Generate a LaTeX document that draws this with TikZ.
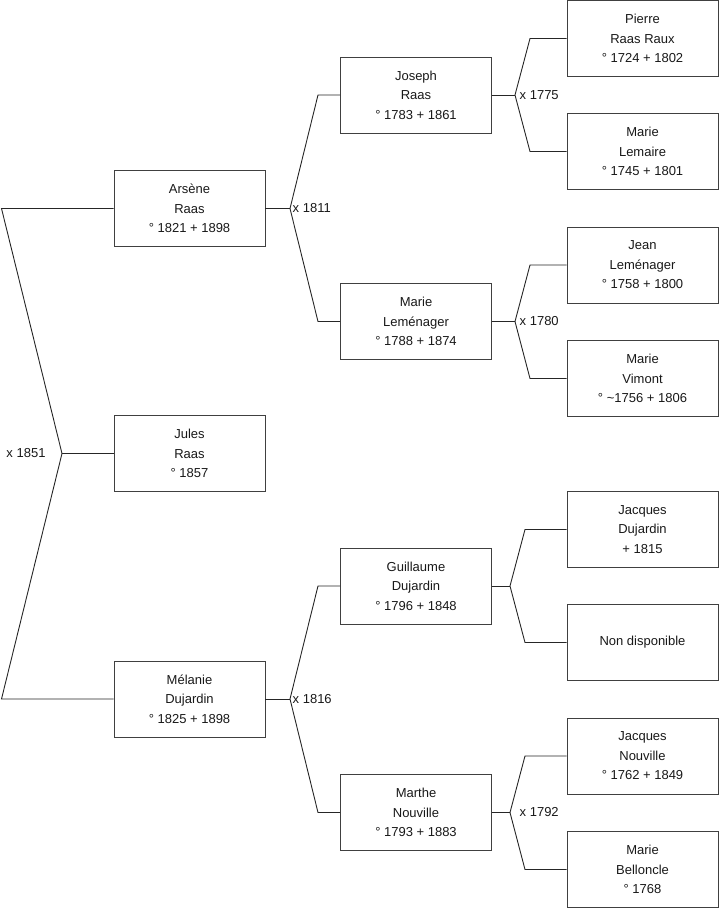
\documentclass[tikz,border=0pt]{standalone}
\usepackage{fontspec}
\setmainfont{Liberation Sans}
\begin{document}
\begin{tikzpicture}[x=1pt,y=-1pt,
  person/.style={draw=black!75, line width=0.9pt, fill=white, minimum width=151pt, minimum height=76pt,
    inner sep=0pt, align=center, font=\fontsize{13}{19.5}\selectfont, text=black!90},
  link/.style={draw=black!85, line width=0.9pt},
  mlabel/.style={font=\fontsize{13}{15}\selectfont, inner sep=0pt, text=black!90}]
\useasboundingbox (0,0) rectangle (719,908);
% column 1
\node[person] (arsene) at (189.5,208.5) {Arsène\\Raas\\° 1821 + 1898};
\node[person] (jules) at (189.5,453.5) {Jules\\Raas\\° 1857};
\node[person] (melanie) at (189.5,699) {Mélanie\\Dujardin\\° 1825 + 1898};
% column 2
\node[person] (joseph) at (416,95) {Joseph\\Raas\\° 1783 + 1861};
\node[person] (mariele) at (416,321.5) {Marie\\Leménager\\° 1788 + 1874};
\node[person] (guillaume) at (416,586) {Guillaume\\Dujardin\\° 1796 + 1848};
\node[person] (marthe) at (416,812.5) {Marthe\\Nouville\\° 1793 + 1883};
% column 3
\node[person] (pierre) at (642.5,38.5) {Pierre\\Raas Raux\\° 1724 + 1802};
\node[person] (lemaire) at (642.5,151.5) {Marie\\Lemaire\\° 1745 + 1801};
\node[person] (jean) at (642.5,265) {Jean\\Leménager\\° 1758 + 1800};
\node[person] (vimont) at (642.5,378.5) {Marie\\Vimont\\° \textasciitilde 1756 + 1806};
\node[person] (jacquesd) at (642.5,529.5) {Jacques\\Dujardin\\+ 1815};
\node[person] (nondisp) at (642.5,642.5) {Non disponible};
\node[person] (jacquesn) at (642.5,756) {Jacques\\Nouville\\° 1762 + 1849};
\node[person] (bellonce) at (642.5,869.5) {Marie\\Belloncle\\° 1768};
% fork coordinates
\coordinate (f0) at (62,453.5);
\coordinate (f0a) at (1.5,208.5);
\coordinate (f0b) at (1.5,699);
\coordinate (f1) at (290,208.5);
\coordinate (f1a) at (318,95);
\coordinate (f1b) at (318,321.5);
\coordinate (f2) at (290,699);
\coordinate (f2a) at (318,586);
\coordinate (f2b) at (318,812.5);
\coordinate (f3) at (515,95);
\coordinate (f3a) at (530,38.5);
\coordinate (f3b) at (530,151.5);
\coordinate (f4) at (515,321.5);
\coordinate (f4a) at (530,265);
\coordinate (f4b) at (530,378.5);
\coordinate (f5) at (510,586);
\coordinate (f5a) at (525,529.5);
\coordinate (f5b) at (525,642.5);
\coordinate (f6) at (510,812.5);
\coordinate (f6a) at (525,756);
\coordinate (f6b) at (525,869.5);
% connectors
\draw[link] (arsene.west) -- (f0a) -- (f0) -- (f0b) -- (melanie.west);
\draw[link] (f0) -- (jules.west);
\draw[link] (arsene.east) -- (f1);
\draw[link] (joseph.west) -- (f1a) -- (f1) -- (f1b) -- (mariele.west);
\draw[link] (melanie.east) -- (f2);
\draw[link] (guillaume.west) -- (f2a) -- (f2) -- (f2b) -- (marthe.west);
\draw[link] (joseph.east) -- (f3);
\draw[link] (pierre.west) -- (f3a) -- (f3) -- (f3b) -- (lemaire.west);
\draw[link] (mariele.east) -- (f4);
\draw[link] (jean.west) -- (f4a) -- (f4) -- (f4b) -- (vimont.west);
\draw[link] (guillaume.east) -- (f5);
\draw[link] (jacquesd.west) -- (f5a) -- (f5) -- (f5b) -- (nondisp.west);
\draw[link] (marthe.east) -- (f6);
\draw[link] (jacquesn.west) -- (f6a) -- (f6) -- (f6b) -- (bellonce.west);
% marriage labels
\node[mlabel, anchor=center] (m0) at (26,453.5) {x 1851};
\node[mlabel, anchor=west] (m1) at (292.5,208.5) {x 1811};
\node[mlabel, anchor=west] (m2) at (292.5,699) {x 1816};
\node[mlabel, anchor=west] (m3) at (519.5,95) {x 1775};
\node[mlabel, anchor=west] (m4) at (519.5,321.5) {x 1780};
\node[mlabel, anchor=west] (m6) at (519.5,812.5) {x 1792};
\end{tikzpicture}
\end{document}
